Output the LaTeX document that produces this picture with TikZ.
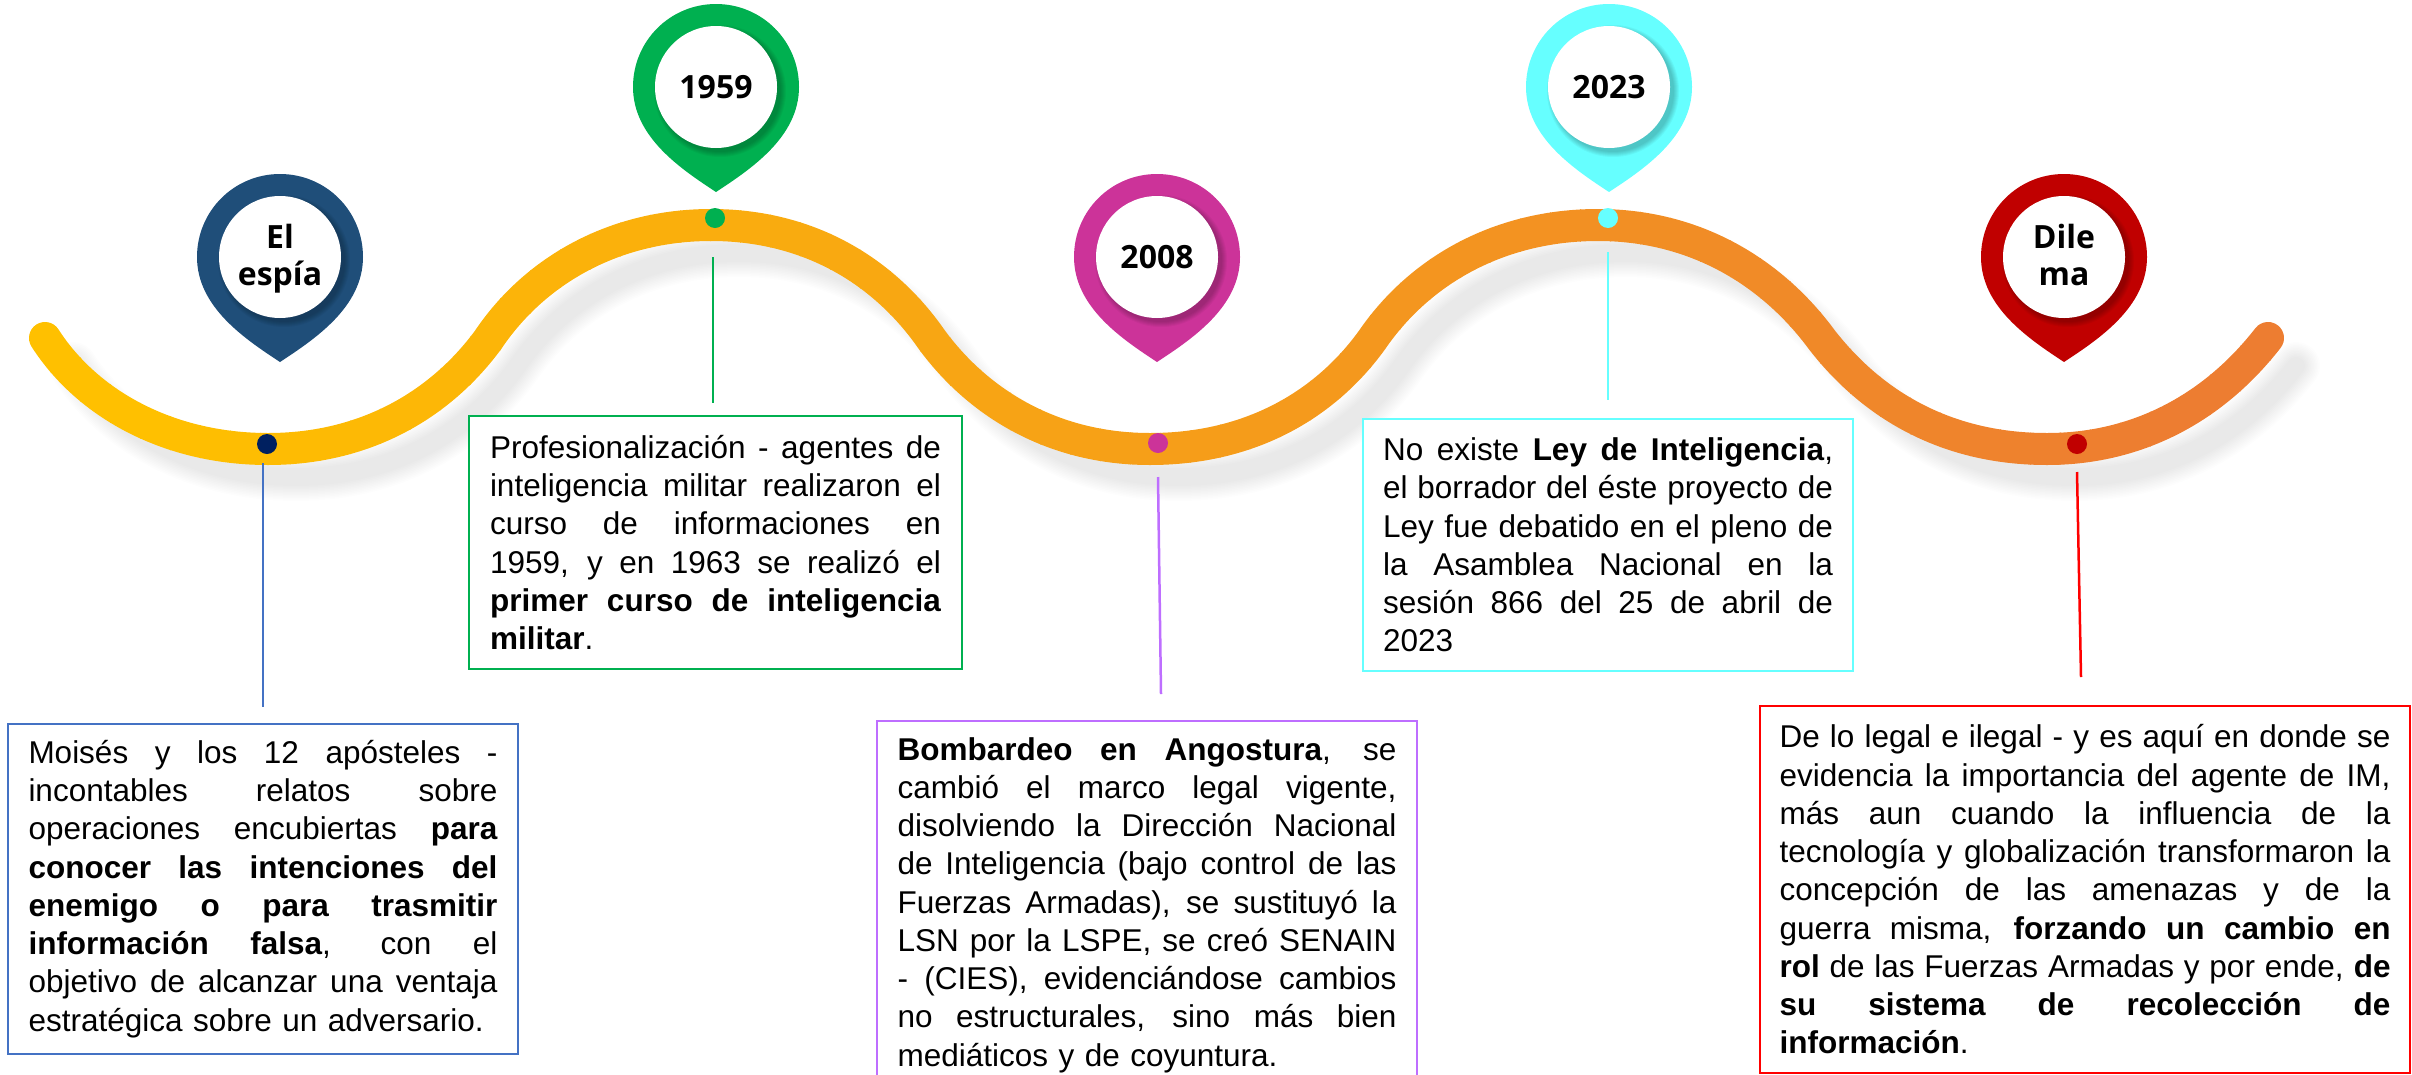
\documentclass[tikz,border=0pt]{standalone}
\usepackage{fontspec}
\setmainfont{Liberation Sans}
\newfontfamily\pinfont{Open Sans}
\definecolor{wavea}{HTML}{FFC000}
\definecolor{waveb}{HTML}{ED7D31}
\definecolor{cblue}{HTML}{1F4E79}
\definecolor{cnavy}{HTML}{002060}
\definecolor{cline}{HTML}{4472C4}
\definecolor{cgreen}{HTML}{00B050}
\definecolor{cmag}{HTML}{CC3399}
\definecolor{cviolet}{HTML}{BE6EFF}
\definecolor{ccyan}{HTML}{66FFFF}
\definecolor{cred}{HTML}{C00000}
\definecolor{clred}{HTML}{FF0000}
\newcommand{\jl}[1]{\hbox to \hsize{\spaceskip=8.8pt plus 1fil minus 3pt\relax #1}}
\newcommand{\lastl}[1]{\hbox{#1}}
\newcommand{\wavepath}{(45,338) .. controls (88,405) and (170,449) .. (268,449)
  .. controls (365,449) and (440,405) .. (488,340)
  .. controls (535,270) and (615,225) .. (711,225)
  .. controls (810,225) and (885,272) .. (932,340)
  .. controls (980,405) and (1055,449) .. (1150,449)
  .. controls (1250,449) and (1325,405) .. (1372,340)
  .. controls (1420,270) and (1500,225) .. (1598,225)
  .. controls (1695,225) and (1772,272) .. (1822,340)
  .. controls (1875,408) and (1950,449) .. (2047,449)
  .. controls (2135,449) and (2212,410) .. (2268,338)}
\newcommand{\pinmark}[5]{%
  \fill[#4] (#2-83,#3) .. controls (#2-83,#3-46) and (#2-46,#3-83) .. (#2,#3-83)
    .. controls (#2+46,#3-83) and (#2+83,#3-46) .. (#2+83,#3)
    .. controls (#2+83,#3+50) and (#2+35,#3+82) .. (#2,#3+105)
    .. controls (#2-35,#3+82) and (#2-83,#3+50) .. cycle;
  \foreach \r in {61,62,...,66}{\fill[black,opacity=0.04] (#2+4,#3+4) circle[radius=\r];}
  \node[pinnode] (#1) at (#2,#3) {#5};}
\newcommand{\upl}[1]{\rule{0pt}{28pt}#1}
\newcommand{\dnl}[1]{\rule[-9pt]{0pt}{9pt}#1}
\tikzset{
  tbox/.style={draw,line width=2.5pt,fill=white,inner sep=0pt,anchor=center,
    font=\fontsize{31.5pt}{38.25pt}\selectfont},
  pinnode/.style={circle,fill=white,inner sep=0pt,minimum size=122pt,align=center,
    font=\pinfont\bfseries\fontsize{32pt}{37pt}\selectfont},
  dotmark/.style={circle,inner sep=0pt,minimum size=20pt},
  leader/.style={line width=2.5pt}
}
\begin{document}
\begin{tikzpicture}[x=1pt,y=-1pt]
\useasboundingbox (0,0) rectangle (2412,1074);
\clip (0,0) rectangle (2412,1074);
% soft shadow of the wave
\foreach \w in {18,21,...,48}{
  \draw[black,opacity=0.0062,line width=\w pt,line cap=round,shift={(28,28)}] \wavepath;}
% wave with a horizontal gradient, drawn slice by slice
\foreach \xx in {20,50,...,2290}{
  \pgfmathsetmacro\t{min(100,max(0,(\xx-150)/20))}
  \colorlet{wavec}{waveb!\t!wavea}
  \begin{scope}
    \clip (\xx,100) rectangle (\xx+31,600);
    \draw[wavec,line width=32pt,line cap=round] \wavepath;
  \end{scope}}
% pins
\pinmark{p1}{280}{257}{cblue}{\upl{El}\\\dnl{espía}}
\pinmark{p2}{716}{87}{cgreen}{1959}
\pinmark{p3}{1157}{257}{cmag}{2008}
\pinmark{p4}{1609}{87}{ccyan}{2023}
\pinmark{p5}{2064}{257}{cred}{\upl{Dile}\\\dnl{ma}}
% dots
\node[dotmark,fill=cnavy] (d1) at (267,444) {};
\node[dotmark,fill=cgreen] (d2) at (715,218) {};
\node[dotmark,fill=cmag] (d3) at (1158,443) {};
\node[dotmark,fill=ccyan] (d4) at (1608,218) {};
\node[dotmark,fill=cred] (d5) at (2077,444) {};
% text boxes
\node[tbox,draw=cline,minimum width=510pt,minimum height=330pt,text width=469pt] (b1) at (263,889) {%
\jl{Moisés y los 12 apósteles -}
\jl{incontables relatos sobre}
\jl{operaciones encubiertas \textbf{para}}
\jl{\textbf{conocer las intenciones del}}
\jl{\textbf{enemigo o para trasmitir}}
\jl{\textbf{información falsa}, con el}
\jl{objetivo de alcanzar una ventaja}
\lastl{estratégica sobre un adversario.}};
\node[tbox,draw=cgreen,minimum width=493pt,minimum height=253pt,text width=451pt] (b2) at (715.5,542.5) {%
\jl{Profesionalización - agentes de}
\jl{inteligencia militar realizaron el}
\jl{curso de informaciones en}
\jl{1959, y en 1963 se realizó el}
\jl{\textbf{primer curso de inteligencia}}
\lastl{\textbf{militar}.}};
\node[tbox,draw=cviolet,minimum width=540pt,minimum height=368pt,text width=499pt] (b3) at (1147,905) {%
\jl{\textbf{Bombardeo en Angostura}, se}
\jl{cambió el marco legal vigente,}
\jl{disolviendo la Dirección Nacional}
\jl{de Inteligencia (bajo control de las}
\jl{Fuerzas Armadas), se sustituyó la}
\jl{LSN por la LSPE, se creó SENAIN}
\jl{- (CIES), evidenciándose cambios}
\jl{no estructurales, sino más bien}
\lastl{mediáticos y de coyuntura.}};
\node[tbox,draw=ccyan,minimum width=490pt,minimum height=252pt,text width=450pt] (b4) at (1608,545) {%
\jl{No existe \textbf{Ley de Inteligencia},}
\jl{el borrador del éste proyecto de}
\jl{Ley fue debatido en el pleno de}
\jl{la Asamblea Nacional en la}
\jl{sesión 866 del 25 de abril de}
\lastl{2023}};
\node[tbox,draw=clred,minimum width=650pt,minimum height=367pt,text width=611pt] (b5) at (2085,889.5) {%
\jl{De lo legal e ilegal - y es aquí en donde se}
\jl{evidencia la importancia del agente de IM,}
\jl{más aun cuando la influencia de la}
\jl{tecnología y globalización transformaron la}
\jl{concepción de las amenazas y de la}
\jl{guerra misma, \textbf{forzando un cambio en}}
\jl{\textbf{rol} de las Fuerzas Armadas y por ende, \textbf{de}}
\jl{\textbf{su sistema de recolección de}}
\lastl{\textbf{información}.}};
% leaders
\coordinate (l1a) at (263,463); \coordinate (l1b) at (263,707);
\coordinate (l2a) at (713,257); \coordinate (l2b) at (713,403);
\coordinate (l3a) at (1158,477); \coordinate (l3b) at (1161,694);
\coordinate (l4a) at (1608,252); \coordinate (l4b) at (1608,400);
\coordinate (l5a) at (2077,472); \coordinate (l5b) at (2081,677);
\draw[leader,cline] (l1a) -- (l1b);
\draw[leader,cgreen] (l2a) -- (l2b);
\draw[leader,cviolet] (l3a) -- (l3b);
\draw[leader,ccyan] (l4a) -- (l4b);
\draw[leader,clred] (l5a) -- (l5b);
\end{tikzpicture}
\end{document}
